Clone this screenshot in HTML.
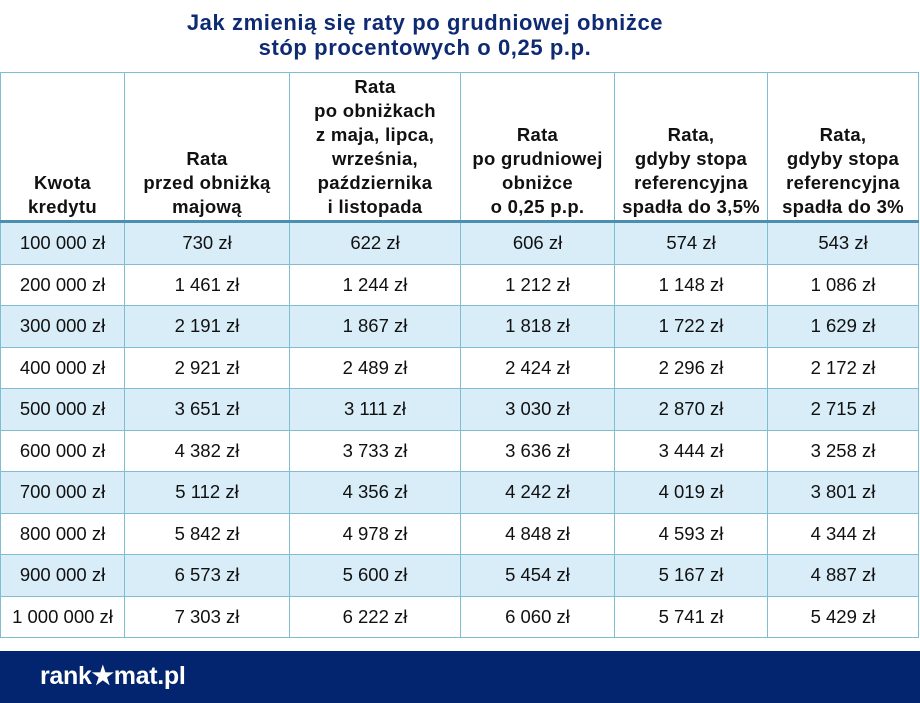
<!DOCTYPE html>
<html><head><meta charset="utf-8"><style>
body{margin:0;width:920px;height:703px;background:#fff;position:relative;overflow:hidden;font-family:"Liberation Sans",sans-serif;}
.t{position:absolute;left:0;width:850px;text-align:center;color:#0e2a72;font-weight:bold;font-size:22px;line-height:25px;top:10px;letter-spacing:0.6px}
table{position:absolute;left:0;top:72px;border-collapse:collapse;}
td,th{border:1.5px solid #7fbdd3;text-align:center;color:#111;padding:0;white-space:nowrap}
th{font-size:18.5px;line-height:24px;vertical-align:bottom;height:146px;font-weight:bold;letter-spacing:0.3px;padding-bottom:1px}
td{font-size:18.5px;height:40.5px;}
tr.b td{background:#d8edf7;}
tr.h th{border-bottom:3px solid #4a8fb0;}
.f{position:absolute;left:0;top:651px;width:920px;height:52px;background:#03246f;}
.f span{position:absolute;left:40px;top:10px;color:#fff;font-weight:bold;font-size:25px;letter-spacing:-0.3px}
</style></head><body>
<div class="t">Jak zmienią się raty po grudniowej obniżce<br>stóp procentowych o 0,25 p.p.</div>
<table>
<tr class="h"><th style="width:123px">Kwota<br>kredytu</th><th style="width:164px">Rata<br>przed obniżką<br>majową</th><th style="width:170px">Rata<br>po obniżkach<br>z maja, lipca,<br>września,<br>października<br>i listopada</th><th style="width:153px">Rata<br>po grudniowej<br>obniżce<br>o 0,25 p.p.</th><th style="width:152px">Rata,<br>gdyby stopa<br>referencyjna<br>spadła do 3,5%</th><th style="width:150px">Rata,<br>gdyby stopa<br>referencyjna<br>spadła do 3%</th></tr>
<tr class="b"><td>100 000 zł</td><td>730 zł</td><td>622 zł</td><td>606 zł</td><td>574 zł</td><td>543 zł</td></tr>
<tr><td>200 000 zł</td><td>1 461 zł</td><td>1 244 zł</td><td>1 212 zł</td><td>1 148 zł</td><td>1 086 zł</td></tr>
<tr class="b"><td>300 000 zł</td><td>2 191 zł</td><td>1 867 zł</td><td>1 818 zł</td><td>1 722 zł</td><td>1 629 zł</td></tr>
<tr><td>400 000 zł</td><td>2 921 zł</td><td>2 489 zł</td><td>2 424 zł</td><td>2 296 zł</td><td>2 172 zł</td></tr>
<tr class="b"><td>500 000 zł</td><td>3 651 zł</td><td>3 111 zł</td><td>3 030 zł</td><td>2 870 zł</td><td>2 715 zł</td></tr>
<tr><td>600 000 zł</td><td>4 382 zł</td><td>3 733 zł</td><td>3 636 zł</td><td>3 444 zł</td><td>3 258 zł</td></tr>
<tr class="b"><td>700 000 zł</td><td>5 112 zł</td><td>4 356 zł</td><td>4 242 zł</td><td>4 019 zł</td><td>3 801 zł</td></tr>
<tr><td>800 000 zł</td><td>5 842 zł</td><td>4 978 zł</td><td>4 848 zł</td><td>4 593 zł</td><td>4 344 zł</td></tr>
<tr class="b"><td>900 000 zł</td><td>6 573 zł</td><td>5 600 zł</td><td>5 454 zł</td><td>5 167 zł</td><td>4 887 zł</td></tr>
<tr><td>1 000 000 zł</td><td>7 303 zł</td><td>6 222 zł</td><td>6 060 zł</td><td>5 741 zł</td><td>5 429 zł</td></tr>
</table>
<div class="f"><span>rank★mat.pl</span></div>
</body></html>
